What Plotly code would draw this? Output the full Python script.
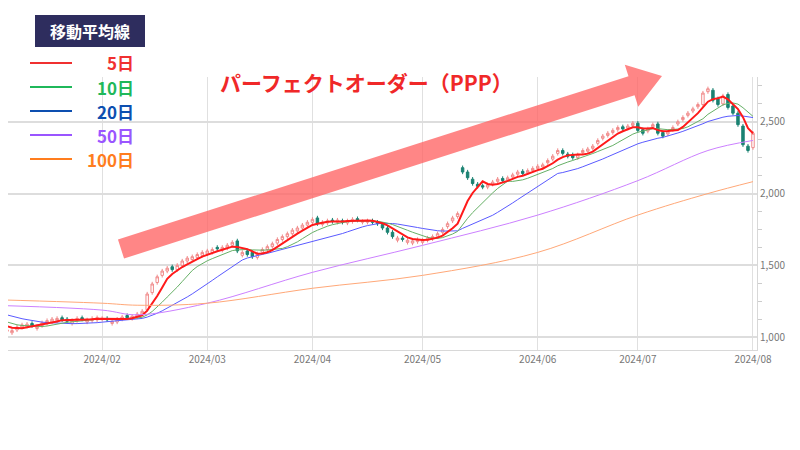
import numpy as np
import pandas as pd
import plotly.graph_objects as go

# daily closes / opens, 2024-01-04 .. 2024-08-01 (business days)
closes = [1060,1050,1045,1070,1085,1090,1080,1075,1100,1115,1125,1130,1120,1110,1115,1130,1125,1120,1130,1135,
          1130,1120,1110,1125,1140,1135,1145,1160,1180,1300,1370,1420,1460,1480,1470,1500,1530,1550,1560,1575,1590,
          1600,1610,1615,1625,1640,1660,1600,1590,1575,1560,1580,1610,1630,1650,1680,1700,1720,1745,1760,1780,1800,
          1820,1790,1800,1810,1805,1815,1800,1810,1820,1815,1805,1810,1800,1790,1760,1730,1700,1690,1680,1675,1670,1680,
          1675,1690,1700,1720,1750,1790,1830,1860,2150,2110,2070,2050,2045,2060,2080,2100,2090,2110,2130,2150,2140,2160,2175,
          2190,2200,2230,2260,2300,2280,2260,2250,2270,2300,2310,2330,2370,2400,2420,2440,2460,2450,2470,2490,
          2440,2420,2450,2480,2420,2400,2430,2460,2500,2530,2560,2590,2620,2700,2730,2650,2620,2680,2600,2560,2480,2340,2300,
          2420]
opens = [1075,1040,1030,1050,1070,1075,1095,1060,1080,1095,1105,1115,1135,1125,1095,1115,1135,1105,1115,1120,
         1125,1130,1095,1105,1125,1150,1130,1140,1160,1190,1310,1380,1430,1460,1490,1470,1500,1530,1540,1555,1570,
         1580,1590,1625,1605,1620,1640,1670,1570,1600,1590,1555,1590,1610,1630,1655,1680,1700,1720,1740,1760,1780,
         1800,1830,1785,1795,1815,1800,1810,1795,1805,1825,1800,1800,1810,1800,1785,1760,1730,1675,1690,1660,1655,1665,
         1660,1675,1685,1700,1730,1770,1810,1840,2180,2150,2100,2065,2055,2045,2065,2085,2105,2095,2115,2135,2155,2145,2160,
         2175,2185,2215,2240,2280,2300,2275,2270,2250,2285,2295,2315,2350,2385,2405,2425,2445,2465,2455,2475,
         2490,2445,2435,2465,2485,2425,2415,2445,2485,2515,2545,2575,2605,2620,2710,2720,2660,2625,2690,2610,2560,2470,2330,
         2320]
# December 2023 closes, only used to warm up the short moving averages
prior_closes = [1250,1245,1240,1235,1230,1220,1210,1200,1190,1180,1170,1160,1150,1140,1130,1120,1110,1100,1090,1080]

# longer averages at a few dates
ma50_dates = ["2023-12-28","2024-02-01","2024-02-12","2024-03-01","2024-04-01","2024-05-01","2024-06-03","2024-07-01","2024-07-19","2024-08-01"]
ma50_vals = [1225,1188,1155,1236,1451,1639,1850,2090,2300,2370]
ma100_dates = ["2023-12-28","2024-02-01","2024-02-12","2024-03-01","2024-04-01","2024-05-01","2024-06-03","2024-07-01","2024-07-19","2024-08-01"]
ma100_vals = [1264,1236,1222,1236,1340,1430,1590,1850,2000,2083]
month_ticks = ["2024-01-01","2024-02-01","2024-03-01","2024-04-01","2024-05-01","2024-06-03","2024-07-01","2024-08-01"]

dates = pd.bdate_range("2024-01-04", periods=len(closes))
prior_dates = pd.bdate_range(end="2024-01-03", periods=len(prior_closes))
all_dates = prior_dates.append(dates)
# trading-day position on the x axis (0 = 2024-01-04)
pos = lambda d: -len(prior_dates) + int(np.searchsorted(all_dates, pd.Timestamp(d)))
xi = np.arange(len(closes))
all_x = np.arange(-len(prior_closes), len(closes))
all_close = pd.Series(prior_closes + closes, index=all_x)
highs = [max(o, c) + 15 for o, c in zip(opens, closes)]
lows = [min(o, c) - 15 for o, c in zip(opens, closes)]

fig = go.Figure()
fig.add_trace(go.Candlestick(
    x=xi, open=opens, high=highs, low=lows, close=closes,
    increasing=dict(line=dict(color="#f08a8a", width=1), fillcolor="white"),
    decreasing=dict(line=dict(color="#1a8272", width=1), fillcolor="#1a8272"),
    whiskerwidth=0, showlegend=False))

ma_colors = {5: "#ff1a1a", 10: "#66b066", 20: "#5a5aff"}
for n in (20, 10, 5):
    ma = all_close.rolling(n).mean()
    fig.add_trace(go.Scatter(x=ma.index, y=ma.values, mode="lines",
                             line=dict(color=ma_colors[n], width=2 if n == 5 else 1), showlegend=False))
fig.add_trace(go.Scatter(x=[pos(d) for d in ma50_dates], y=ma50_vals, mode="lines",
                         line=dict(color="#cc80ff", width=1, shape="spline"), showlegend=False))
fig.add_trace(go.Scatter(x=[pos(d) for d in ma100_dates], y=ma100_vals, mode="lines",
                         line=dict(color="#ffa878", width=1, shape="spline"), showlegend=False))

# page pixels (page has an 8px body margin); plot area on page: x 8..757, y 77..350
def px(x, y):
    return (x - 8) / 749, (350 - y) / 273

# big arrow
tail = np.array([121, 249.0]); tip = np.array([662, 76.0])
d = tip - tail; u = d / np.linalg.norm(d); nrm = np.array([-u[1], u[0]])
hl, sw, hw = 32, 10, 22
base = tip - u * hl
pts = [tail + nrm * sw, base + nrm * sw, base + nrm * hw, tip, base - nrm * hw, base - nrm * sw, tail - nrm * sw]
path = "M " + " L ".join("%f,%f" % px(*p) for p in pts) + " Z"
shapes = [dict(type="path", xref="paper", yref="paper", path=path,
               fillcolor="rgba(255,100,100,0.78)", line=dict(width=0))]

annotations = [dict(text="<b>パーフェクトオーダー（PPP）</b>", x=px(218, 0)[0], y=px(0, 82)[1],
                    xref="paper", yref="paper", xanchor="left", yanchor="middle", showarrow=False,
                    font=dict(size=21, color="#f02828"))]

# legend box
x0, y0 = px(35, 15); x1, y1 = px(145, 47)
shapes.append(dict(type="rect", xref="paper", yref="paper", x0=x0, y0=y0, x1=x1, y1=y1,
                   fillcolor="#2e2d5e", line=dict(width=0)))
annotations.append(dict(text="<b>移動平均線</b>", x=(x0 + x1) / 2, y=(y0 + y1) / 2, xref="paper", yref="paper",
                        xanchor="center", yanchor="middle", showarrow=False, font=dict(size=16, color="white")))
legend_rows = [("5日", "#f03030", 63), ("10日", "#1fb85a", 87), ("20日", "#0d4fb0", 111),
               ("50日", "#9a55ff", 135), ("100日", "#ff7d1e", 159)]
for label, col, y in legend_rows:
    a, b = px(30, y); c, _ = px(72, y)
    shapes.append(dict(type="line", xref="paper", yref="paper", x0=a, y0=b, x1=c, y1=b,
                       line=dict(color=col, width=2)))
    annotations.append(dict(text="<b>%s</b>" % label, x=px(136, 0)[0], y=b, xref="paper", yref="paper",
                            xanchor="right", yanchor="middle", showarrow=False, font=dict(size=17, color=col)))

fig.update_layout(
    width=800, height=450, margin=dict(l=0, r=51, t=69, b=108, autoexpand=False),
    paper_bgcolor="white", plot_bgcolor="white",
    font=dict(family="Noto Sans CJK JP, Noto Sans, sans-serif"),
    shapes=shapes, annotations=annotations, hovermode=False,
    xaxis=dict(range=[1.2, 150.8], rangeslider=dict(visible=False),
               tickvals=[pos(d) for d in month_ticks], ticktext=[d[:7].replace("-", "/") for d in month_ticks],
               showgrid=True, gridcolor="#e0e0e0", showline=True, linecolor="#d8d8d8",
               tickfont=dict(size=10, color="#777"), ticks="", zeroline=False, automargin=False),
    yaxis=dict(side="right", range=[910, 2812], dtick=500, tickformat=",", showgrid=True,
               gridcolor="#dddddd", gridwidth=1.5, showline=True, linecolor="#d8d8d8",
               tickfont=dict(size=10, color="#777"), zeroline=False, automargin=False,
               minor=dict(dtick=125, ticks="outside", ticklen=4, tickcolor="#ccc", showgrid=False)),
)
fig.write_html("out.html")
